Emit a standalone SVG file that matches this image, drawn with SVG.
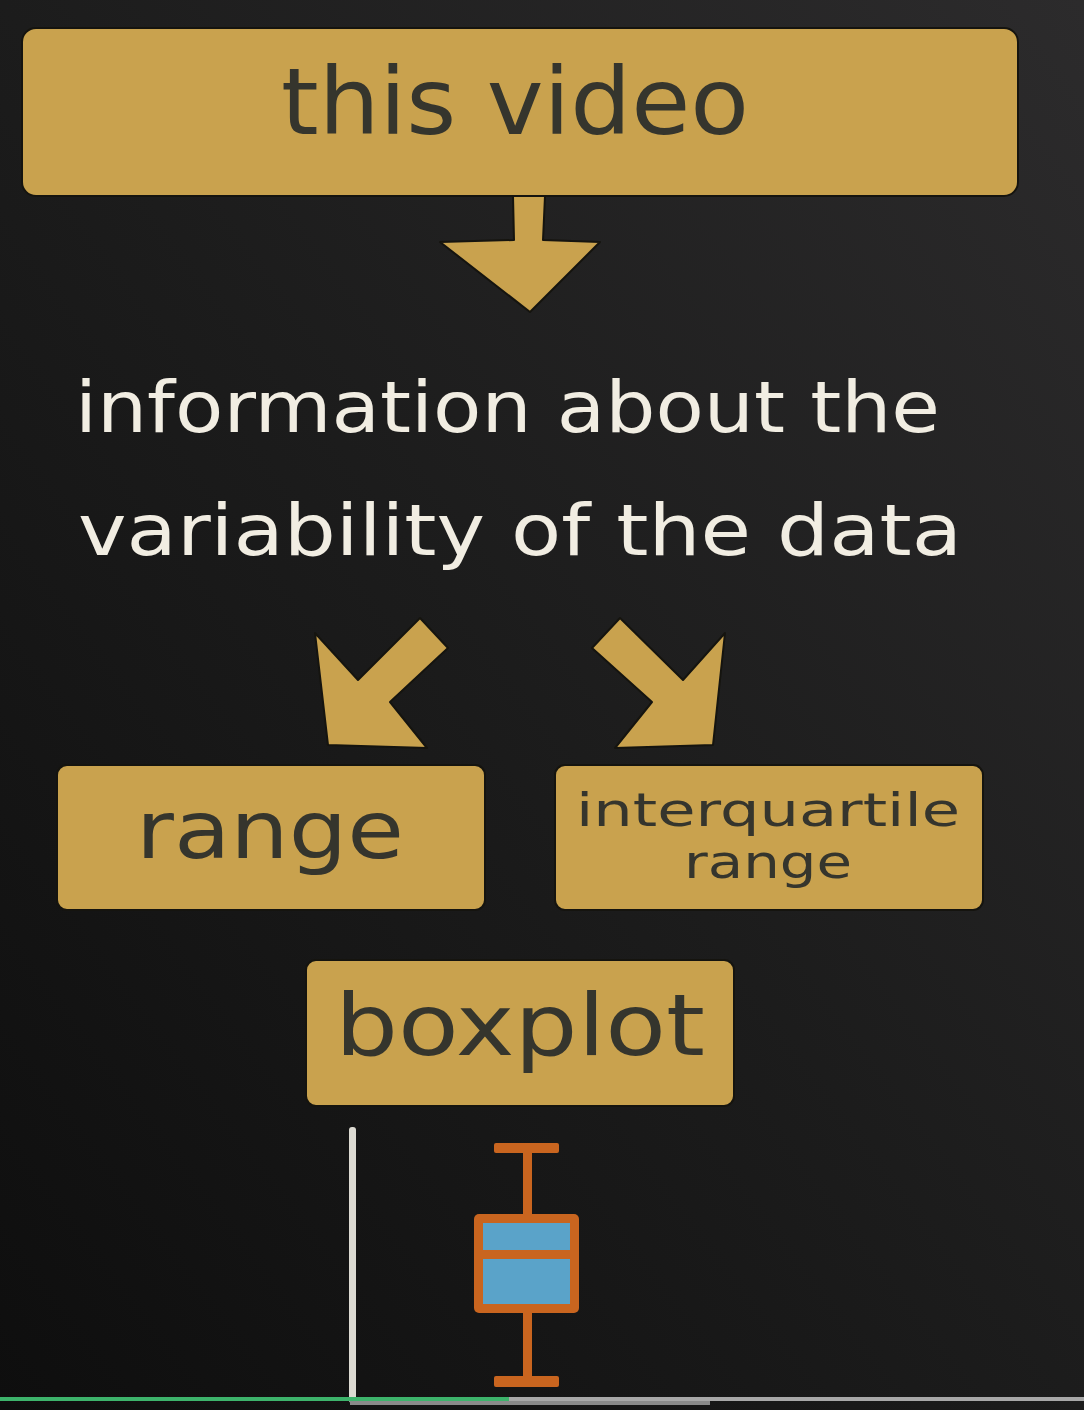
<svg xmlns="http://www.w3.org/2000/svg" width="1084" height="1410" viewBox="0 0 1084 1410">
<defs>
<linearGradient id="bg" x1="0" y1="1" x2="1" y2="0">
<stop offset="0" stop-color="#0e0e0e"/>
<stop offset="0.5" stop-color="#1c1c1c"/>
<stop offset="1" stop-color="#2c2b2c"/>
</linearGradient>
<style>
.box{fill:#c9a24e;stroke:#15140f;stroke-width:2}
.lbl{font-family:"DejaVu Sans","Liberation Sans",sans-serif;fill:#35352d;text-anchor:middle}
.wt{font-family:"DejaVu Sans","Liberation Sans",sans-serif;fill:#f1ede2}
.arr{fill:#c9a24e;stroke:#15140f;stroke-width:2;stroke-linejoin:round}
.orange{fill:#c9651f}
</style>
</defs>
<rect width="1084" height="1410" fill="url(#bg)"/>

<g id="node-this-video">
<rect class="box" x="22" y="28" width="996" height="168" rx="14"/>
<text class="lbl" x="515" y="134" font-size="92" textLength="468" lengthAdjust="spacingAndGlyphs">this video</text>
</g>

<g id="node-information">
<text class="wt" x="75" y="432" font-size="72" textLength="865" lengthAdjust="spacingAndGlyphs">information about the</text>
<text class="wt" x="78" y="555" font-size="72" textLength="884" lengthAdjust="spacingAndGlyphs">variability of the data</text>
</g>

<g id="node-range">
<rect class="box" x="57" y="765" width="428" height="145" rx="10"/>
<text class="lbl" x="270" y="858" font-size="80" textLength="268" lengthAdjust="spacingAndGlyphs">range</text>
</g>

<g id="node-iqr">
<rect class="box" x="555" y="765" width="428" height="145" rx="10"/>
<text class="lbl" x="768" y="826" font-size="46" textLength="384" lengthAdjust="spacingAndGlyphs">interquartile</text>
<text class="lbl" x="768" y="878" font-size="46" textLength="168" lengthAdjust="spacingAndGlyphs">range</text>
</g>

<g id="node-boxplot">
<rect class="box" x="306" y="960" width="428" height="146" rx="10"/>
<text class="lbl" x="520" y="1055" font-size="86" textLength="370" lengthAdjust="spacingAndGlyphs">boxplot</text>
</g>

<g id="connectors">
<path class="arr" d="M513 196 L545 196 L543 240 L600 242 L530 312 L440 242 L514 240 Z"/>
<path class="arr" d="M315 633 L358 680 L420 618 L448 648 L390 702 L427 748 L328 745 Z"/>
<path class="arr" d="M620 618 L683 680 L725 633 L713 745 L615 748 L652 702 L592 648 Z"/>
</g>

<g id="boxplot-figure">
<rect x="349" y="1127" width="7" height="276" rx="3" fill="#dcdad2"/>
<rect class="orange" x="494" y="1143" width="65" height="10" rx="2"/>
<rect class="orange" x="523" y="1148" width="9" height="70" />
<rect class="orange" x="523" y="1310" width="9" height="70" />
<rect class="orange" x="494" y="1376" width="65" height="11" rx="2"/>
<rect class="orange" x="474" y="1214" width="105" height="99" rx="5"/>
<rect x="483" y="1223" width="87" height="27" fill="#5aa3c9"/>
<rect x="483" y="1259" width="87" height="45" fill="#5aa3c9"/>
</g>

<g id="progress">
<rect x="0" y="1397" width="1084" height="4" fill="#a8a8a8"/>
<rect x="0" y="1397" width="509" height="4" fill="#3db36b"/>
<rect x="350" y="1401" width="360" height="4" fill="#8a8a8a"/>
</g>
</svg>
